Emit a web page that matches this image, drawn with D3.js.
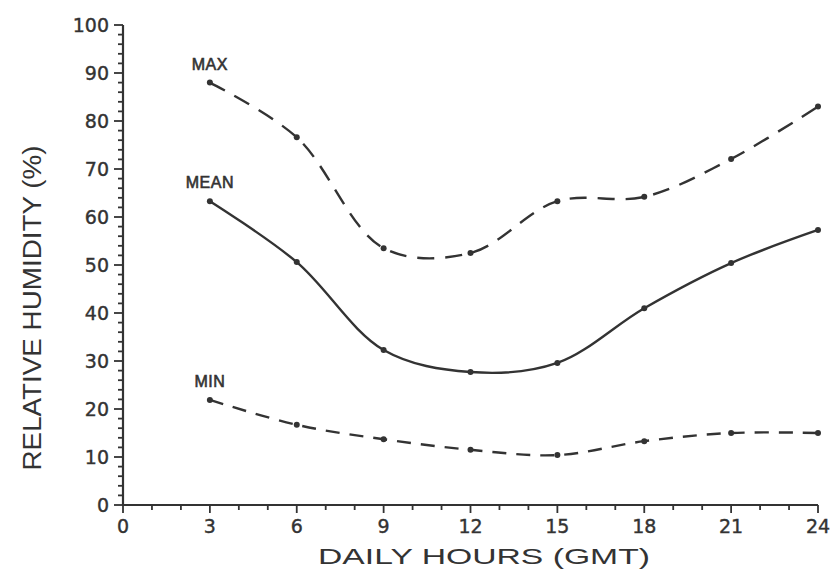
<!DOCTYPE html>
<html>
<head>
<meta charset="utf-8">
<script src="https://cdn.jsdelivr.net/npm/d3@7"></script>
<style>
  body { margin: 0; background: #fff; }
  text { font-family: "Liberation Sans", Arial, sans-serif; fill: #333; }
  .tick-label { font-family: "DejaVu Sans", sans-serif; }
</style>
</head>
<body>
<svg id="chart" width="837" height="573"></svg>
<script>
var hours = [3, 6, 9, 12, 15, 18, 21, 24];
var maxValues = [88, 76.6, 53.5, 52.5, 63.3, 64.2, 72.1, 83];
var meanValues = [63.3, 50.6, 32.3, 27.7, 29.6, 41, 50.4, 57.3];
var minValues = [21.9, 16.7, 13.7, 11.5, 10.4, 13.3, 15, 15];
var xTicks = [0, 3, 6, 9, 12, 15, 18, 21, 24];
var yTicks = [0, 10, 20, 30, 40, 50, 60, 70, 80, 90, 100];

var series = [
  { name: "MAX", values: maxValues, dash: "17,11" },
  { name: "MEAN", values: meanValues, dash: null },
  { name: "MIN", values: minValues, dash: "14,10" }
];

var svg = d3.select("#chart"),
    ink = "#333";

var x = d3.scaleLinear().domain([0, 24]).range([123, 818]),
    y = d3.scaleLinear().domain([0, 100]).range([505, 25]);

// x axis: hour ticks pointing down, longer every 3 hours
var xAxis = svg.append("g").attr("transform", "translate(0," + y(0) + ")");
xAxis.append("line")
    .attr("x1", x(0)).attr("x2", x(24))
    .attr("stroke", ink).attr("stroke-width", 2.2);
xAxis.selectAll("line.minor")
    .data(d3.range(0, 25))
  .enter().append("line")
    .attr("class", "minor")
    .attr("x1", function(d) { return x(d); })
    .attr("x2", function(d) { return x(d); })
    .attr("y1", 0)
    .attr("y2", function(d) { return d % 3 === 0 ? 8 : 5; })
    .attr("stroke", ink).attr("stroke-width", 1.8);
xAxis.selectAll("text")
    .data(xTicks)
  .enter().append("text")
    .attr("class", "tick-label")
    .attr("x", function(d) { return x(d); })
    .attr("y", 28)
    .attr("text-anchor", "middle")
    .style("font-size", "19px")
    .style("stroke", ink).style("stroke-width", 0.4)
    .text(function(d) { return d; });

// y axis: ticks to the left, minor every 2 units
var yAxis = svg.append("g").attr("transform", "translate(" + x(0) + ",0)");
yAxis.append("line")
    .attr("y1", y(0)).attr("y2", y(100))
    .attr("stroke", ink).attr("stroke-width", 2.2);
yAxis.selectAll("line.minor")
    .data(d3.range(0, 101, 2))
  .enter().append("line")
    .attr("class", "minor")
    .attr("y1", function(d) { return y(d); })
    .attr("y2", function(d) { return y(d); })
    .attr("x1", 0)
    .attr("x2", function(d) { return d % 10 === 0 ? -9 : -5; })
    .attr("stroke", ink).attr("stroke-width", 1.8);
yAxis.selectAll("text")
    .data(yTicks)
  .enter().append("text")
    .attr("class", "tick-label")
    .attr("x", -14)
    .attr("y", function(d) { return y(d) + 7; })
    .attr("text-anchor", "end")
    .style("font-size", "19px")
    .style("stroke", ink).style("stroke-width", 0.4)
    .text(function(d) { return d; });

// axis titles
svg.append("text")
    .attr("transform", "translate(41,308) rotate(-90)")
    .attr("text-anchor", "middle")
    .attr("textLength", 325)
    .attr("lengthAdjust", "spacingAndGlyphs")
    .style("font-size", "25px")
    .text("RELATIVE HUMIDITY (%)");

svg.append("text")
    .attr("x", 484)
    .attr("y", 564)
    .attr("text-anchor", "middle")
    .attr("textLength", 332)
    .attr("lengthAdjust", "spacingAndGlyphs")
    .style("font-size", "22px")
    .text("DAILY HOURS (GMT)");

// lines
var line = d3.line()
    .x(function(d) { return x(d[0]); })
    .y(function(d) { return y(d[1]); })
    .curve(d3.curveCatmullRom);

var g = svg.selectAll("g.series")
    .data(series)
  .enter().append("g")
    .attr("class", "series");

g.append("path")
    .attr("d", function(s) { return line(d3.zip(hours, s.values)); })
    .attr("fill", "none")
    .attr("stroke", ink)
    .attr("stroke-width", 2.4)
    .attr("stroke-dasharray", function(s) { return s.dash; });

g.selectAll("circle")
    .data(function(s) { return d3.zip(hours, s.values); })
  .enter().append("circle")
    .attr("cx", function(d) { return x(d[0]); })
    .attr("cy", function(d) { return y(d[1]); })
    .attr("r", 3)
    .attr("fill", ink);

g.append("text")
    .attr("x", function(s) { return x(hours[0]); })
    .attr("y", function(s) { return y(s.values[0]) - 13; })
    .attr("text-anchor", "middle")
    .style("font-size", "16px")
    .style("letter-spacing", "0.5px")
    .style("stroke", ink).style("stroke-width", 0.6)
    .text(function(s) { return s.name; });
</script>
</body>
</html>
